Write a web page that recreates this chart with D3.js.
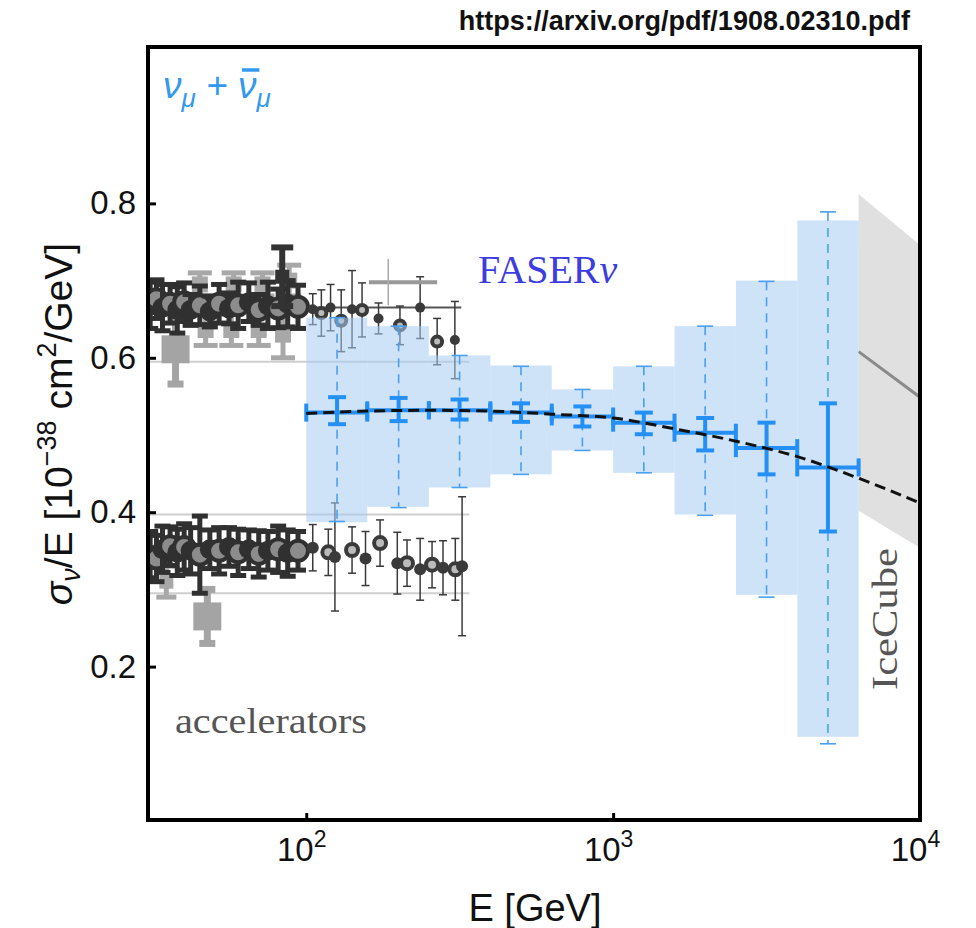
<!DOCTYPE html>
<html>
<head>
<meta charset="utf-8">
<script src="https://cdn.jsdelivr.net/npm/d3@7"></script>
<style>
body{margin:0;background:#fff;}
text{font-family:"Liberation Sans",Arial,Helvetica,sans-serif;}
</style>
</head>
<body>
<svg id="chart" width="976" height="928"></svg>
<script>
// FASERnu projected measurement (nu_mu + nubar_mu)
var faserE  = [126, 200, 316, 501, 794, 1259, 1995, 3162, 5012];
var binLo   = [100, 158, 251, 398, 631, 1000, 1585, 2512, 3981];
var binHi   = [158, 251, 398, 631, 1000, 1585, 2512, 3981, 6310];
var faserV  = [0.529, 0.532, 0.532, 0.529, 0.524, 0.516, 0.503, 0.483, 0.458];
var statLo  = [0.514, 0.518, 0.520, 0.517, 0.511, 0.501, 0.480, 0.449, 0.375];
var statHi  = [0.549, 0.548, 0.546, 0.541, 0.537, 0.529, 0.522, 0.516, 0.541];
var totLo   = [0.388, 0.406, 0.432, 0.449, 0.480, 0.451, 0.396, 0.290, 0.100];
var totHi   = [0.652, 0.641, 0.603, 0.589, 0.559, 0.589, 0.641, 0.699, 0.789];
var boxLo   = [0.387, 0.407, 0.432, 0.449, 0.480, 0.451, 0.397, 0.293, 0.109];
var boxHi   = [0.652, 0.641, 0.603, 0.590, 0.559, 0.589, 0.641, 0.700, 0.778];

// theory curve
var curveE = [100, 158, 251, 398, 631, 1000, 1585, 2512, 3981, 6310, 10000];
var curveV = [0.528, 0.531, 0.532, 0.531, 0.527, 0.522, 0.508, 0.492, 0.472, 0.444, 0.412];

// IceCube band
var iceE   = [6310, 10000];
var iceTop = [0.812, 0.746];
var iceMid = [0.608, 0.549];
var iceBot = [0.402, 0.354];

// accelerator data, neutrinos (upper) and antineutrinos (lower)
var nuLowE   = [31, 32.5, 34, 36, 38, 40, 42, 45, 48.5, 52, 56, 60, 65, 70, 75, 81, 87, 94];
var nuLowV   = [0.668, 0.676, 0.665, 0.670, 0.662, 0.672, 0.662, 0.668, 0.660, 0.670, 0.664, 0.668, 0.672, 0.662, 0.668, 0.664, 0.670, 0.666];
var nuLowErr = [0.03, 0.025, 0.03, 0.025, 0.03, 0.025, 0.02, 0.025, 0.02, 0.025, 0.02, 0.03, 0.025, 0.02, 0.03, 0.025, 0.03, 0.028];
var nuHiE    = [105, 112, 120, 130, 141, 152, 172, 202, 235, 267, 305];
var nuHiV    = [0.663, 0.658, 0.665, 0.648, 0.663, 0.662, 0.651, 0.642, 0.665, 0.621, 0.623];
var nuHiErr  = [0.02, 0.03, 0.03, 0.04, 0.05, 0.035, 0.02, 0.025, 0.04, 0.03, 0.05];
var nuGrayE  = [47, 57, 70, 84, 45, 58, 72, 88];
var nuGrayV  = [0.636, 0.636, 0.636, 0.630, 0.695, 0.695, 0.695, 0.700];
var nuGrayErr= [0.02, 0.02, 0.02, 0.03, 0.015, 0.015, 0.015, 0.02];
var nuTopE = [83.5], nuTopV = [0.705], nuTopErr = [0.038];
var nuWideE = [185], nuWideLo = [160], nuWideHi = [267], nuWideV = [0.698], nuWideErr = [0.03];

var nubarLowE   = [31, 32.5, 34, 36, 38, 40, 42, 45, 48.5, 52, 56, 60, 65, 70, 75, 81, 87, 94];
var nubarLowV   = [0.345, 0.340, 0.352, 0.356, 0.348, 0.355, 0.350, 0.345, 0.352, 0.350, 0.355, 0.348, 0.352, 0.346, 0.350, 0.352, 0.347, 0.350];
var nubarLowErr = [0.03, 0.03, 0.03, 0.025, 0.03, 0.03, 0.03, 0.05, 0.025, 0.03, 0.025, 0.03, 0.025, 0.03, 0.025, 0.03, 0.03, 0.025];
var nubarHiE    = [105, 118, 124, 141, 156, 174, 198, 213, 235, 257, 279, 306, 322];
var nubarHiV    = [0.354, 0.348, 0.342, 0.351, 0.340, 0.360, 0.334, 0.334, 0.326, 0.332, 0.328, 0.326, 0.330];
var nubarHiErr  = [0.03, 0.03, 0.07, 0.03, 0.035, 0.03, 0.04, 0.03, 0.04, 0.03, 0.035, 0.04, 0.09];
var nubarGrayE = [35], nubarGrayV = [0.31], nubarGrayErr = [0.02];

// big gray points
var bigE = [37.5, 47.6], bigV = [0.611, 0.265], bigErr = [0.045, 0.035];

// world-average lines
var avgV = [0.595, 0.397, 0.295];
var avgLo = 30, avgHi = 340;
var nuAvgV = 0.665, nuAvgLo = 100, nuAvgHi = 320;

var yTicks = [0.2, 0.4, 0.6, 0.8];
var xTicks = [100, 1000, 10000];

var svg = d3.select("#chart");
var L = 148, R = 920, T = 49, B = 821;
var x = d3.scaleLog().domain([30.5, 10000]).range([L, R]);
var y = d3.scaleLinear().domain([0, 1]).range([B, T]);

svg.append("defs").append("clipPath").attr("id", "clip")
  .append("rect").attr("x", L).attr("y", T).attr("width", R - L).attr("height", B - T);

var plot = svg.append("g").attr("clip-path", "url(#clip)");

// IceCube band
var iceIdx = d3.range(iceE.length);
plot.append("path")
  .attr("d", d3.area().x(function(i){ return x(iceE[i]); })
      .y0(function(i){ return y(iceBot[i]); }).y1(function(i){ return y(iceTop[i]); })(iceIdx))
  .attr("fill", "#e0e0e0");
plot.append("path")
  .attr("d", d3.line().x(function(i){ return x(iceE[i]); }).y(function(i){ return y(iceMid[i]); })(iceIdx))
  .attr("stroke", "#8a8a8a").attr("stroke-width", 3).attr("fill", "none");

// accelerator average lines
avgV.forEach(function(v){
  plot.append("line").attr("x1", x(avgLo)).attr("x2", x(avgHi))
    .attr("y1", y(v)).attr("y2", y(v)).attr("stroke", "#cfcfcf").attr("stroke-width", 2);
});
plot.append("line").attr("x1", x(nuAvgLo)).attr("x2", x(nuAvgHi))
  .attr("y1", y(nuAvgV)).attr("y2", y(nuAvgV)).attr("stroke", "#555").attr("stroke-width", 2);

// generic accelerator point drawer
function drawPoints(E, V, Err, o){
  var g = plot.append("g");
  E.forEach(function(e, i){
    var cx = x(e), cy = y(V[i]);
    g.append("line").attr("x1", cx).attr("x2", cx)
      .attr("y1", y(V[i] - Err[i])).attr("y2", y(V[i] + Err[i]))
      .attr("stroke", o.color).attr("stroke-width", o.lw);
    [V[i] - Err[i], V[i] + Err[i]].forEach(function(c){
      g.append("line").attr("x1", cx - o.cap).attr("x2", cx + o.cap)
        .attr("y1", y(c)).attr("y2", y(c))
        .attr("stroke", o.color).attr("stroke-width", o.lw);
    });
    var open = o.open && i % 2 === 1;
    if (o.shape === "square") {
      g.append("rect").attr("x", cx - o.r).attr("y", cy - o.r)
        .attr("width", 2 * o.r).attr("height", 2 * o.r)
        .attr("fill", open ? o.hole : o.color)
        .attr("stroke", o.color).attr("stroke-width", open ? 4 : 0);
    } else {
      g.append("circle").attr("cx", cx).attr("cy", cy).attr("r", o.r)
        .attr("fill", open ? o.hole : o.color)
        .attr("stroke", o.color).attr("stroke-width", open ? 4 : 0);
    }
  });
}

drawPoints(bigE, bigV, bigErr, {color: "#a4a4a4", lw: 7, cap: 8, r: 14, shape: "square"});
drawPoints(nuGrayE, nuGrayV, nuGrayErr, {color: "#a8a8a8", lw: 5, cap: 12, r: 8, shape: "square"});
drawPoints(nubarGrayE, nubarGrayV, nubarGrayErr, {color: "#a8a8a8", lw: 5, cap: 10, r: 7, shape: "square"});
drawPoints(nuLowE, nuLowV, nuLowErr, {color: "#303030", lw: 5, cap: 8, r: 10, shape: "circle", open: true, hole: "#8c8c8c"});
drawPoints(nubarLowE, nubarLowV, nubarLowErr, {color: "#303030", lw: 5, cap: 8, r: 10, shape: "circle", open: true, hole: "#8c8c8c"});
drawPoints(nuTopE, nuTopV, nuTopErr, {color: "#333", lw: 6, cap: 11, r: 7, shape: "square"});
drawPoints(nuHiE, nuHiV, nuHiErr, {color: "#3a3a3a", lw: 1.5, cap: 4, r: 5, shape: "circle", open: true, hole: "#bbb"});
drawPoints(nubarHiE, nubarHiV, nubarHiErr, {color: "#3a3a3a", lw: 1.5, cap: 4, r: 6, shape: "circle", open: true, hole: "#bbb"});

// wide gray cross
nuWideE.forEach(function(e, i){
  plot.append("line").attr("x1", x(nuWideLo[i])).attr("x2", x(nuWideHi[i]))
    .attr("y1", y(nuWideV[i])).attr("y2", y(nuWideV[i])).attr("stroke", "#999").attr("stroke-width", 4);
  plot.append("line").attr("x1", x(e)).attr("x2", x(e))
    .attr("y1", y(nuWideV[i] - nuWideErr[i])).attr("y2", y(nuWideV[i] + nuWideErr[i]))
    .attr("stroke", "#aaa").attr("stroke-width", 1.5);
});

// FASERnu boxes
var idx = d3.range(faserE.length);
plot.selectAll("rect.box").data(idx).enter().append("rect")
  .attr("class", "box")
  .attr("x", function(i){ return x(binLo[i]); })
  .attr("width", function(i){ return x(binHi[i]) - x(binLo[i]); })
  .attr("y", function(i){ return y(boxHi[i]); })
  .attr("height", function(i){ return y(boxLo[i]) - y(boxHi[i]); })
  .attr("fill", "rgb(168,204,242)").attr("fill-opacity", 0.55);

// total (dashed) error bars
var blue = "#2490f5";
idx.forEach(function(i){
  var cx = x(faserE[i]);
  plot.append("line").attr("x1", cx).attr("x2", cx)
    .attr("y1", y(totHi[i])).attr("y2", y(totLo[i]))
    .attr("stroke", "#4a9ff2").attr("stroke-width", 1.6).attr("stroke-dasharray", "9,7");
  [totHi[i], totLo[i]].forEach(function(v){
    plot.append("line").attr("x1", cx - 8).attr("x2", cx + 8)
      .attr("y1", y(v)).attr("y2", y(v)).attr("stroke", "#4a9ff2").attr("stroke-width", 1.6);
  });
});

// statistical error bars
idx.forEach(function(i){
  var cx = x(faserE[i]), cy = y(faserV[i]);
  var x0 = x(binLo[i]), x1 = x(binHi[i]);
  plot.append("line").attr("x1", x0).attr("x2", x1).attr("y1", cy).attr("y2", cy)
    .attr("stroke", blue).attr("stroke-width", 4);
  [x0, x1].forEach(function(xx){
    plot.append("line").attr("x1", xx).attr("x2", xx).attr("y1", cy - 9).attr("y2", cy + 9)
      .attr("stroke", blue).attr("stroke-width", 4);
  });
  plot.append("line").attr("x1", cx).attr("x2", cx)
    .attr("y1", y(statHi[i])).attr("y2", y(statLo[i]))
    .attr("stroke", blue).attr("stroke-width", 4);
  [statHi[i], statLo[i]].forEach(function(v){
    plot.append("line").attr("x1", cx - 9).attr("x2", cx + 9)
      .attr("y1", y(v)).attr("y2", y(v)).attr("stroke", blue).attr("stroke-width", 4);
  });
});

// theory curve
plot.append("path")
  .attr("d", d3.line().curve(d3.curveMonotoneX)
    .x(function(d, i){ return x(curveE[i]); }).y(function(d){ return y(d); })(curveV))
  .attr("fill", "none").attr("stroke", "#111").attr("stroke-width", 3)
  .attr("stroke-dasharray", "11,6");

// axes
var ya = svg.append("g").attr("transform", "translate(" + L + ",0)")
  .call(d3.axisLeft(y).tickValues(yTicks).tickSize(-8).tickPadding(12).tickFormat(d3.format(".1f")));
ya.select(".domain").remove();
ya.selectAll(".tick line").attr("stroke", "#000").attr("stroke-width", 3);
ya.selectAll(".tick text").attr("font-size", 33).attr("fill", "#111")
  .style("font-family", "'Liberation Sans', Arial, sans-serif");

var xa = svg.append("g").attr("transform", "translate(0," + B + ")")
  .call(d3.axisBottom(x).tickValues(xTicks).tickSize(-8).tickPadding(17));
xa.select(".domain").remove();
xa.selectAll(".tick line").attr("stroke", "#000").attr("stroke-width", 3);
xa.selectAll(".tick text").each(function(d){
  var t = d3.select(this);
  t.text("").attr("font-size", 33).attr("fill", "#111").attr("dx", -5)
    .style("font-family", "'Liberation Sans', Arial, sans-serif");
  t.append("tspan").text("10");
  t.append("tspan").attr("dy", -14).attr("font-size", 23).text(Math.round(Math.log10(d)));
});

// frame
svg.append("rect").attr("x", L).attr("y", T - 2).attr("width", R - L).attr("height", B - T + 1)
  .attr("fill", "none").attr("stroke", "#000").attr("stroke-width", 4);

// axis titles
svg.append("text").attr("x", 535).attr("y", 921).attr("text-anchor", "middle")
  .attr("font-size", 38).attr("fill", "#111").text("E [GeV]");

var yt = svg.append("text").attr("transform", "translate(72,424) rotate(-90)")
  .attr("text-anchor", "middle").attr("font-size", 39).attr("fill", "#111");
yt.append("tspan").attr("font-style", "italic").text("σ");
yt.append("tspan").attr("dy", 8).attr("font-size", 27).attr("font-style", "italic").text("ν");
yt.append("tspan").attr("dy", -8).text("/E [10");
yt.append("tspan").attr("dy", -16).attr("font-size", 27).text("−38");
yt.append("tspan").attr("dy", 16).text(" cm");
yt.append("tspan").attr("dy", -16).attr("font-size", 27).text("2");
yt.append("tspan").attr("dy", 16).text("/GeV]");

// url
svg.append("text").attr("x", 910).attr("y", 30).attr("text-anchor", "end")
  .attr("font-size", 27).attr("font-weight", "bold").attr("fill", "#111")
  .text("https://arxiv.org/pdf/1908.02310.pdf");

// legend label
var lg = svg.append("text").attr("x", 163).attr("y", 98).attr("font-size", 37)
  .attr("fill", "#3399ee").attr("font-style", "italic");
lg.append("tspan").text("ν");
lg.append("tspan").attr("dy", 9).attr("font-size", 26).text("μ");
lg.append("tspan").attr("dy", -9).text(" + ");
lg.append("tspan").text("ν");
lg.append("tspan").attr("dy", 9).attr("font-size", 26).text("μ");
var nuBox = lg.node().getExtentOfChar(5);
svg.append("line").attr("x1", nuBox.x + 4).attr("x2", nuBox.x + nuBox.width + 3)
  .attr("y1", nuBox.y + 5).attr("y2", nuBox.y + 5)
  .attr("stroke", "#3399ee").attr("stroke-width", 3.5);

// annotations
var fz = svg.append("text").attr("x", 478).attr("y", 283).attr("font-size", 40)
  .attr("fill", "#3c3ce0").style("font-family", "'Liberation Serif','Times New Roman',serif");
fz.append("tspan").text("FASER");
fz.append("tspan").attr("font-style", "italic").text("ν");

svg.append("text").attr("x", 175).attr("y", 733).attr("font-size", 36)
  .attr("textLength", 192).attr("lengthAdjust", "spacingAndGlyphs")
  .attr("fill", "#555").style("font-family", "'Liberation Serif','Times New Roman',serif")
  .text("accelerators");

svg.append("text").attr("transform", "translate(897,690) rotate(-90)").attr("font-size", 36)
  .attr("textLength", 142).attr("lengthAdjust", "spacingAndGlyphs")
  .attr("fill", "#555").style("font-family", "'Liberation Serif','Times New Roman',serif")
  .text("IceCube");
</script>
</body>
</html>
